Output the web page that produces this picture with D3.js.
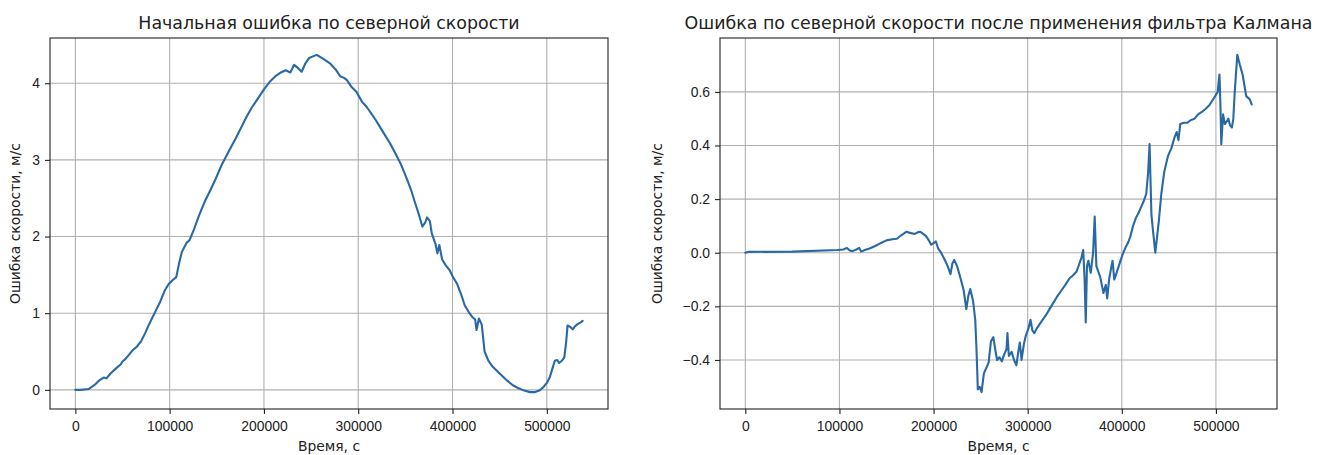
<!DOCTYPE html>
<html>
<head>
<meta charset="utf-8">
<script src="https://cdn.jsdelivr.net/npm/d3@7"></script>
<style>
  html, body { margin: 0; padding: 0; background: #fff; }
  svg { display: block; font-family: "DejaVu Sans", sans-serif; }
  .grid line { stroke: #b0b0b0; stroke-width: 1.1; }
  .axis path, .axis line { stroke: #222; stroke-width: 1.1; }
  .axis text { fill: #222; font-size: 13.9px; }
</style>
</head>
<body>
<svg id="chart" width="1319" height="455"></svg>
<script>
// Initial north velocity error, m/s, over time, s
const timeInitial = [0, 5000, 14000, 20000, 25000, 30000, 33000, 37000, 44000, 48000, 50000, 53000, 57000, 61000, 65000, 70000, 74000, 78000, 82000, 86000, 90000, 95000, 99000, 103000, 107000, 110000, 113000, 118000, 121000, 126000, 131000, 137000, 143000, 148000, 155000, 163000, 170000, 177000, 181000, 187000, 193000, 200000, 207000, 213000, 218000, 223000, 228000, 232000, 236000, 240000, 244000, 248000, 252000, 256000, 260000, 265000, 270000, 276000, 281000, 285000, 288000, 293000, 298000, 304000, 309000, 313000, 318000, 323000, 328000, 334000, 340000, 345000, 350000, 356000, 360000, 364000, 368000, 371000, 373000, 376000, 378000, 382000, 384000, 386000, 389000, 393000, 397000, 401000, 405000, 409000, 413000, 418000, 421000, 424000, 425500, 428000, 431000, 434000, 438000, 442000, 447000, 452000, 458000, 464000, 470000, 476000, 482000, 487000, 492000, 496000, 500000, 503000, 506000, 508500, 511000, 513000, 516000, 518500, 520500, 522000, 525000, 527500, 530000, 533000, 536000, 538000];
const errorInitial = [0, 0.0, 0.01, 0.06, 0.12, 0.16, 0.15, 0.21, 0.29, 0.33, 0.37, 0.40, 0.46, 0.52, 0.56, 0.64, 0.74, 0.85, 0.95, 1.05, 1.15, 1.30, 1.38, 1.43, 1.47, 1.65, 1.80, 1.92, 1.95, 2.10, 2.27, 2.45, 2.60, 2.73, 2.93, 3.12, 3.28, 3.45, 3.55, 3.68, 3.79, 3.92, 4.03, 4.10, 4.14, 4.17, 4.14, 4.24, 4.20, 4.15, 4.26, 4.33, 4.35, 4.37, 4.34, 4.30, 4.26, 4.18, 4.09, 4.07, 4.04, 3.95, 3.89, 3.76, 3.69, 3.62, 3.53, 3.43, 3.33, 3.21, 3.07, 2.95, 2.80, 2.61, 2.45, 2.30, 2.13, 2.18, 2.25, 2.20, 2.04, 1.90, 1.78, 1.89, 1.70, 1.62, 1.56, 1.46, 1.38, 1.25, 1.10, 1.00, 0.95, 0.92, 0.78, 0.93, 0.85, 0.50, 0.38, 0.31, 0.25, 0.19, 0.12, 0.06, 0.02, -0.01, -0.03, -0.03, -0.01, 0.03, 0.09, 0.16, 0.28, 0.38, 0.39, 0.35, 0.38, 0.42, 0.62, 0.84, 0.82, 0.79, 0.83, 0.86, 0.88, 0.90];

// North velocity error after the Kalman filter, m/s
const timeFiltered = [0, 3000, 50000, 98000, 104000, 108000, 111000, 114000, 118000, 121000, 123000, 127000, 132000, 138000, 144000, 150000, 156000, 161000, 166000, 171000, 175000, 180000, 183000, 186000, 189000, 192000, 195000, 197500, 200000, 202500, 205000, 208000, 212000, 215000, 218000, 220000, 222000, 225000, 229000, 232000, 234800, 237000, 239000, 242000, 244300, 245500, 246500, 247000, 249000, 251000, 253500, 256000, 258500, 261000, 263500, 265500, 267500, 270000, 272500, 275000, 277500, 278500, 280000, 283000, 285500, 288000, 290000, 291700, 293500, 296000, 298000, 301000, 303000, 305000, 307000, 310000, 314000, 319000, 325000, 331000, 336000, 340000, 344500, 348000, 352000, 355000, 357000, 359000, 360500, 361700, 363000, 364500, 367000, 369500, 371200, 373000, 375000, 377000, 380500, 383000, 384500, 386500, 388500, 390200, 392000, 394000, 397700, 401000, 404000, 407000, 409000, 412000, 415000, 418000, 420500, 423000, 426000, 428000, 429500, 431500, 433500, 435600, 437500, 439400, 442000, 445000, 449000, 452700, 456000, 458300, 460200, 462100, 466000, 469700, 473500, 477300, 481000, 485000, 488600, 493000, 498100, 501900, 503000, 503800, 504800, 505700, 507600, 509500, 511500, 513300, 515000, 517000, 518500, 520000, 522700, 525500, 528400, 532200, 536000, 538000];
const errorFiltered = [0, 0.003, 0.004, 0.01, 0.012, 0.018, 0.008, 0.006, 0.012, 0.018, 0.004, 0.01, 0.016, 0.025, 0.036, 0.046, 0.05, 0.052, 0.066, 0.078, 0.074, 0.07, 0.076, 0.078, 0.07, 0.062, 0.046, 0.030, 0.036, 0.042, 0.015, 0.0, -0.027, -0.05, -0.08, -0.04, -0.027, -0.05, -0.10, -0.14, -0.21, -0.16, -0.135, -0.18, -0.25, -0.35, -0.45, -0.51, -0.50, -0.52, -0.45, -0.43, -0.41, -0.33, -0.315, -0.36, -0.40, -0.39, -0.405, -0.38, -0.36, -0.30, -0.385, -0.37, -0.40, -0.42, -0.37, -0.335, -0.40, -0.34, -0.31, -0.28, -0.25, -0.29, -0.30, -0.28, -0.26, -0.235, -0.20, -0.165, -0.14, -0.12, -0.095, -0.085, -0.07, -0.04, -0.02, 0.01, -0.10, -0.26, -0.05, -0.03, -0.075, 0.0, 0.135, -0.05, -0.07, -0.09, -0.15, -0.12, -0.17, -0.10, -0.06, -0.03, -0.10, -0.08, -0.04, -0.005, 0.02, 0.04, 0.06, 0.10, 0.13, 0.15, 0.17, 0.19, 0.22, 0.30, 0.405, 0.14, 0.07, 0.0, 0.06, 0.12, 0.22, 0.30, 0.36, 0.39, 0.43, 0.45, 0.42, 0.48, 0.485, 0.485, 0.495, 0.50, 0.516, 0.525, 0.535, 0.55, 0.578, 0.60, 0.64, 0.665, 0.55, 0.405, 0.516, 0.48, 0.49, 0.50, 0.475, 0.467, 0.50, 0.60, 0.738, 0.70, 0.664, 0.584, 0.572, 0.553];

const timeTicks = [0, 100000, 200000, 300000, 400000, 500000];
const initialTicks = [0, 1, 2, 3, 4];
const filteredTicks = [-0.4, -0.2, 0.0, 0.2, 0.4, 0.6];

const titles = ["Начальная ошибка по северной скорости",
                "Ошибка по северной скорости после применения фильтра Калмана"];
const xLabel = "Время, с";
const yLabel = "Ошибка скорости, м/с";

const svg = d3.select("#chart");

// Pad a data extent by 5% on each side
function padded(values) {
  const [lo, hi] = d3.extent(values);
  const m = (hi - lo) * 0.05;
  return [lo - m, hi + m];
}

function drawPanel(frame, times, errors, yTicks, yFormat, title, yLabelX) {
  const x = d3.scaleLinear().domain(padded(times)).range([frame.left, frame.right]);
  const y = d3.scaleLinear().domain(padded(errors)).range([frame.bottom, frame.top]);

  const g = svg.append("g");

  // grid
  const grid = g.append("g").attr("class", "grid");
  grid.selectAll("line.v").data(timeTicks).join("line")
    .attr("class", "v")
    .attr("x1", d => x(d)).attr("x2", d => x(d))
    .attr("y1", frame.top).attr("y2", frame.bottom);
  grid.selectAll("line.h").data(yTicks).join("line")
    .attr("class", "h")
    .attr("x1", frame.left).attr("x2", frame.right)
    .attr("y1", d => y(d)).attr("y2", d => y(d));

  // series
  const pts = times.map((t, i) => [t, errors[i]]);
  g.append("path")
    .datum(pts)
    .attr("fill", "none")
    .attr("stroke", "#2869a6")
    .attr("stroke-width", 2.1)
    .attr("stroke-linejoin", "round")
    .attr("stroke-linecap", "round")
    .attr("d", d3.line().x(d => x(d[0])).y(d => y(d[1])));

  // frame
  g.append("rect")
    .attr("x", frame.left).attr("y", frame.top)
    .attr("width", frame.right - frame.left)
    .attr("height", frame.bottom - frame.top)
    .attr("fill", "none").attr("stroke", "#222").attr("stroke-width", 1.1);

  // axes
  g.append("g").attr("class", "axis")
    .attr("transform", `translate(0,${frame.bottom})`)
    .call(d3.axisBottom(x).tickValues(timeTicks).tickFormat(d3.format("d"))
      .tickSize(5).tickPadding(7).tickSizeOuter(0))
    .call(a => a.select(".domain").remove());
  g.append("g").attr("class", "axis")
    .attr("transform", `translate(${frame.left},0)`)
    .call(d3.axisLeft(y).tickValues(yTicks).tickFormat(yFormat)
      .tickSize(5).tickPadding(5).tickSizeOuter(0))
    .call(a => a.select(".domain").remove());

  // title and labels
  g.append("text")
    .attr("x", (frame.left + frame.right) / 2).attr("y", frame.top - 9)
    .attr("text-anchor", "middle")
    .attr("font-size", 17.4).attr("fill", "#222")
    .text(title);
  g.append("text")
    .attr("x", (frame.left + frame.right) / 2).attr("y", 451)
    .attr("text-anchor", "middle")
    .attr("font-size", 13.9).attr("fill", "#222")
    .text(xLabel);
  g.append("text")
    .attr("transform", `translate(${yLabelX},${(frame.top + frame.bottom) / 2}) rotate(-90)`)
    .attr("text-anchor", "middle")
    .attr("font-size", 13.9).attr("fill", "#222")
    .text(yLabel);
}

drawPanel({left: 50, right: 608, top: 38, bottom: 409},
  timeInitial, errorInitial, initialTicks, d3.format("d"), titles[0], 20);
drawPanel({left: 720, right: 1277, top: 38, bottom: 409},
  timeFiltered, errorFiltered, filteredTicks, d3.format(".1f"), titles[1], 662);
</script>
</body>
</html>
